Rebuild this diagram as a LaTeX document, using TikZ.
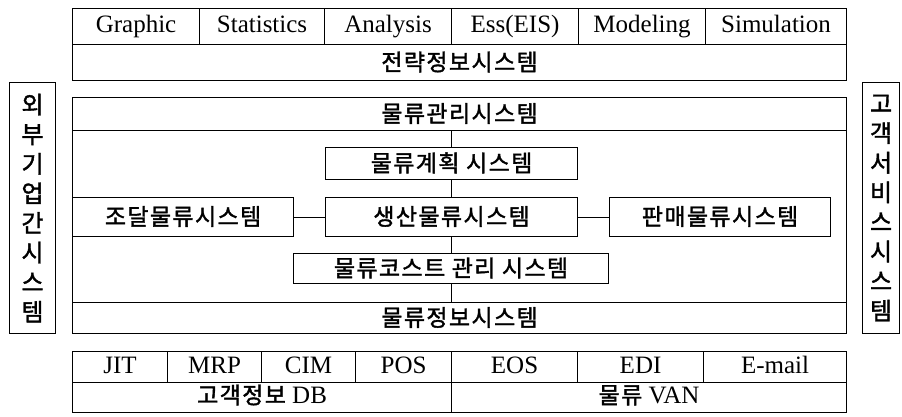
\documentclass[tikz,border=0pt]{standalone}
\usepackage{fontspec}
\setmainfont{Liberation Serif}
\newfontfamily\kr{Noto Sans CJK KR}[FakeBold=1.6,LetterSpace=6]
\begin{document}
\begin{tikzpicture}[x=1pt,y=-1pt,
  cell/.style={draw, line width=1.1pt, inner sep=0pt, anchor=north west,
    text height=17pt, text depth=5pt,
    font=\fontsize{25}{27}\selectfont},
  kcell/.style={cell, text height=19pt, text depth=3pt, font=\kr\fontsize{23}{26}\selectfont},
  link/.style={line width=1.1pt},
  side/.style={draw, line width=1.1pt, inner sep=0pt, anchor=north west,
    align=center, font=\kr\fontsize{24}{29.6}\selectfont}]
\useasboundingbox (0,0) rectangle (902,416);
% top block
\node[cell, minimum width=127, minimum height=36] (graphic) at (72,8) {Graphic};
\node[cell, minimum width=125, minimum height=36] (stat) at (199,8) {Statistics};
\node[cell, minimum width=127, minimum height=36] (anal) at (324,8) {Analysis};
\node[cell, minimum width=127, minimum height=36] (ess) at (451,8) {Ess(EIS)};
\node[cell, minimum width=127, minimum height=36] (model) at (578,8) {Modeling};
\node[cell, minimum width=141, minimum height=36] (simu) at (705,8) {Simulation};
\node[kcell, minimum width=774, minimum height=36] (strat) at (72,44) {전략정보시스템};
% middle block
\node[kcell, minimum width=774, minimum height=33] (mgmt) at (72,97) {물류관리시스템};
\node[cell, minimum width=774, minimum height=172] (body) at (72,130) {};
\node[kcell, minimum width=774, minimum height=31] (info) at (72,302) {물류정보시스템};
\node[kcell, minimum width=252, minimum height=32] (plan) at (325,147) {물류계획 시스템};
\node[kcell, minimum width=221, minimum height=39] (proc) at (72,197) {조달물류시스템};
\node[kcell, minimum width=252, minimum height=39] (prod) at (325,197) {생산물류시스템};
\node[kcell, minimum width=221, minimum height=39] (sales) at (609,197) {판매물류시스템};
\node[kcell, minimum width=315, minimum height=30] (cost) at (293,253) {물류코스트 관리 시스템};
\draw[link] (plan.north |- mgmt.south) -- (plan.north);
\draw[link] (plan.south) -- (prod.north);
\draw[link] (prod.south) -- (prod.south |- cost.north);
\draw[link] (prod.south |- cost.south) -- (prod.south |- info.north);
\draw[link] (proc.east) -- (prod.west);
\draw[link] (prod.east) -- (sales.west);
% side boxes
\node[side, minimum width=46, minimum height=251] (ext) at (9,82) {외\\부\\기\\업\\간\\시\\스\\템};
\node[side, minimum width=37, minimum height=251] (cust) at (862,82) {고\\객\\서\\비\\스\\시\\스\\템};
% bottom block
\node[cell, minimum width=95, minimum height=31] (jit) at (72,351) {JIT};
\node[cell, minimum width=94, minimum height=31] (mrp) at (167,351) {MRP};
\node[cell, minimum width=94, minimum height=31] (cim) at (261,351) {CIM};
\node[cell, minimum width=96, minimum height=31] (pos) at (355,351) {POS};
\node[cell, minimum width=126, minimum height=31] (eos) at (451,351) {EOS};
\node[cell, minimum width=126, minimum height=31] (edi) at (577,351) {EDI};
\node[cell, minimum width=143, minimum height=31] (email) at (703,351) {E-mail};
\node[cell, minimum width=379, minimum height=30] (cdb) at (72,382) {{\kr\fontsize{23}{26}\selectfont 고객정보} DB};
\node[cell, minimum width=395, minimum height=30] (van) at (451,382) {{\kr\fontsize{23}{26}\selectfont 물류} VAN};
\end{tikzpicture}
\end{document}
